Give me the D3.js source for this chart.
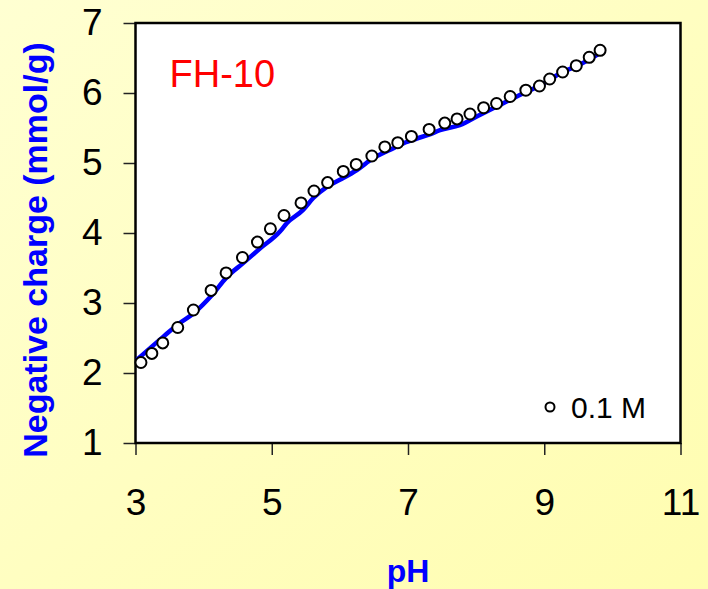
<!DOCTYPE html>
<html>
<head>
<meta charset="utf-8">
<script src="https://cdn.jsdelivr.net/npm/d3@7"></script>
<style>
  body { margin: 0; background: #ffffc0; }
  svg { display: block; }
  text { font-family: Arial, "Liberation Sans", sans-serif; }
</style>
</head>
<body>
<div id="chart"></div>
<script>
// chart size
const svgWidth = 708;
const svgHeight = 589;

const margin = { top: 23, right: 27.5, bottom: 146, left: 135.5 };
const chartWidth = svgWidth - margin.left - margin.right;
const chartHeight = svgHeight - margin.top - margin.bottom;

// measured points, 0.1 M
const pointPH = [3.08, 3.24, 3.40, 3.62, 3.85, 4.11, 4.33, 4.57, 4.79, 4.98, 5.18, 5.43, 5.62, 5.82, 6.05, 6.24, 6.47, 6.66, 6.85, 7.05, 7.31, 7.54, 7.72, 7.91, 8.11, 8.30, 8.50, 8.73, 8.93, 9.08, 9.27, 9.47, 9.66, 9.82];
const pointCharge = [2.15, 2.28, 2.43, 2.65, 2.90, 3.18, 3.43, 3.65, 3.87, 4.06, 4.25, 4.43, 4.60, 4.72, 4.88, 4.98, 5.10, 5.23, 5.29, 5.38, 5.48, 5.57, 5.63, 5.70, 5.79, 5.85, 5.95, 6.04, 6.10, 6.20, 6.30, 6.39, 6.51, 6.61];

// model curve
const linePH = [3.02, 3.41, 3.63, 3.85, 4.12, 4.34, 4.58, 4.83, 5.12, 5.22, 5.46, 5.61, 5.81, 6.00, 6.25, 6.49, 6.74, 6.93, 7.13, 7.32, 7.47, 7.76, 8.06, 8.35, 8.64, 8.94, 9.23, 9.53, 9.82];
const lineCharge = [2.19, 2.52, 2.70, 2.85, 3.11, 3.37, 3.57, 3.78, 4.02, 4.14, 4.33, 4.50, 4.66, 4.76, 4.90, 5.07, 5.19, 5.28, 5.35, 5.41, 5.47, 5.54, 5.69, 5.83, 5.97, 6.11, 6.28, 6.41, 6.57];

const xTicks = [3, 5, 7, 9, 11];
const yTicks = [1, 2, 3, 4, 5, 6, 7];

const svg = d3.select("#chart").append("svg")
    .attr("width", svgWidth)
    .attr("height", svgHeight);

// pale yellow background
const grad = svg.append("defs").append("linearGradient")
    .attr("id", "bg")
    .attr("x1", "0").attr("y1", "0")
    .attr("x2", "1").attr("y2", "1");
grad.append("stop").attr("offset", "0").attr("stop-color", "#ffffd2");
grad.append("stop").attr("offset", "1").attr("stop-color", "#fffdb0");

svg.append("rect")
    .attr("width", svgWidth)
    .attr("height", svgHeight)
    .attr("fill", "url(#bg)");

const chartG = svg.append("g")
    .attr("transform", `translate(${margin.left}, ${margin.top})`);

const x = d3.scaleLinear().domain([3, 11]).range([0, chartWidth]);
const y = d3.scaleLinear().domain([1, 7]).range([chartHeight, 0]);

// plot area
chartG.append("rect")
    .attr("width", chartWidth)
    .attr("height", chartHeight)
    .attr("fill", "#ffffff");

// axes
const xAxisG = chartG.append("g")
    .attr("transform", `translate(0, ${chartHeight})`)
    .call(d3.axisBottom(x).tickValues(xTicks).tickFormat(d3.format("d"))
        .tickSize(12).tickPadding(34).tickSizeOuter(0));

const yAxisG = chartG.append("g")
    .call(d3.axisLeft(y).tickValues(yTicks).tickFormat(d3.format("d"))
        .tickSize(12).tickPadding(21).tickSizeOuter(0));

[xAxisG, yAxisG].forEach(g => {
    g.select(".domain").remove();
    g.selectAll(".tick line").attr("stroke", "#222").attr("stroke-width", 1.5);
    g.selectAll(".tick text")
        .attr("fill", "#000")
        .style("font-size", "37px")
        .style("font-family", "Arial, 'Liberation Sans', sans-serif");
});

// frame
chartG.append("rect")
    .attr("width", chartWidth)
    .attr("height", chartHeight)
    .attr("fill", "none")
    .attr("stroke", "#000")
    .attr("stroke-width", 2.5);

// model line
const lineData = linePH.map((d, i) => [d, lineCharge[i]]);
chartG.append("path")
    .datum(lineData)
    .attr("fill", "none")
    .attr("stroke", "#0000ff")
    .attr("stroke-width", 4.5)
    .attr("stroke-linejoin", "round")
    .attr("d", d3.line().x(d => x(d[0])).y(d => y(d[1])).curve(d3.curveMonotoneX));

// points
const pointData = pointPH.map((d, i) => [d, pointCharge[i]]);
chartG.selectAll("circle.pt")
    .data(pointData)
    .enter()
    .append("circle")
    .classed("pt", true)
    .attr("cx", d => x(d[0]))
    .attr("cy", d => y(d[1]))
    .attr("r", 5.5)
    .attr("fill", "#fff")
    .attr("stroke", "#000")
    .attr("stroke-width", 2);

// sample label
chartG.append("text")
    .attr("x", 34)
    .attr("y", 64)
    .attr("fill", "#ff0000")
    .style("font-size", "38px")
    .text("FH-10");

// legend
chartG.append("circle")
    .attr("cx", 550 - margin.left)
    .attr("cy", 407 - margin.top)
    .attr("r", 4.5)
    .attr("fill", "#fff")
    .attr("stroke", "#000")
    .attr("stroke-width", 2);

chartG.append("text")
    .attr("x", 571 - margin.left)
    .attr("y", 407 - margin.top)
    .attr("dy", "0.36em")
    .attr("fill", "#000")
    .style("font-size", "30px")
    .text("0.1 M");

// axis titles
svg.append("text")
    .attr("x", margin.left + x(7))
    .attr("y", 582)
    .attr("text-anchor", "middle")
    .attr("fill", "#0000ff")
    .style("font-size", "32px")
    .style("font-weight", "bold")
    .text("pH");

svg.append("text")
    .attr("transform", "translate(47, 250) rotate(-90)")
    .attr("text-anchor", "middle")
    .attr("fill", "#0000ff")
    .style("font-size", "34px")
    .style("font-weight", "bold")
    .text("Negative charge (mmol/g)");
</script>
</body>
</html>
